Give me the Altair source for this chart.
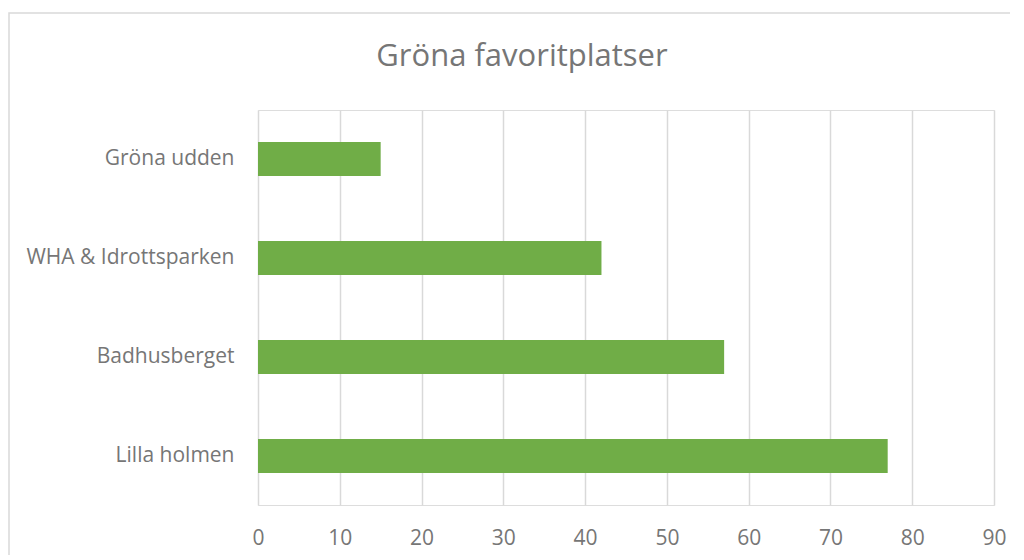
import altair as alt
import pandas as pd

places = ["Gröna udden", "WHA & Idrottsparken", "Badhusberget", "Lilla holmen"]
counts = [15, 42, 57, 77]
title_text = ["Gröna favoritplatser"]
ticks = [0, 10, 20, 30, 40, 50, 60, 70, 80, 90]

df = pd.DataFrame({"place": places, "count": counts})
frame_df = pd.DataFrame({"k": [0]})
title_df = pd.DataFrame({"t": title_text})

FONT = "Open Sans"
GRAY = "#767676"

bars = alt.Chart(df).mark_bar(color="#70ad47").encode(
    x=alt.X("count:Q",
            scale=alt.Scale(domain=[0, 90], nice=False, zero=True),
            axis=alt.Axis(values=ticks, title=None, grid=True, gridColor="#d9d9d9",
                          gridWidth=1.5, domain=False, ticks=False, labelPadding=22,
                          labelFontSize=21, labelColor=GRAY, labelFont=FONT,
                          labelFlush=False, labelOverlap=False)),
    y=alt.Y("place:N", sort=places,
            scale=alt.Scale(paddingInner=0.657, paddingOuter=0.323),
            axis=alt.Axis(title=None, domain=False, ticks=False, grid=False,
                          labelPadding=24, labelFontSize=21, labelColor=GRAY,
                          labelFont=FONT, labelLimit=300)),
)

frame = alt.Chart(frame_df).mark_rect(fill="transparent", stroke="#d9d9d9", strokeWidth=1.5).encode(
    x=alt.value(-249), x2=alt.value(2000), y=alt.value(-97), y2=alt.value(2000)
)

title = alt.Chart(title_df).mark_text(fontSize=31, color=GRAY, font=FONT,
                                      align="center", baseline="middle").encode(
    text="t:N", x=alt.value(264), y=alt.value(-53)
)

chart = alt.layer(frame, bars, title).properties(
    width=736, height=395,
    autosize=alt.AutoSizeParams(type="none"),
    padding={"left": 250, "top": 102, "right": 16, "bottom": 50},
).configure_view(stroke=None).configure(background="white")

chart.save("out.html", embed_options={"renderer": "svg", "actions": False})
